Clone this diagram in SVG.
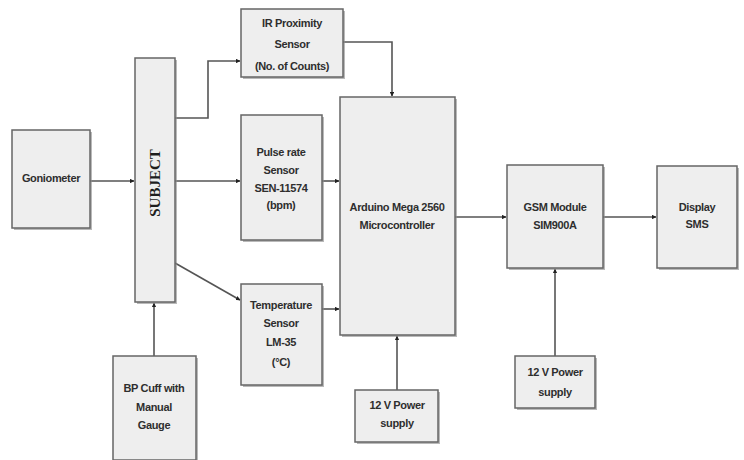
<svg xmlns="http://www.w3.org/2000/svg" width="744" height="460" viewBox="0 0 744 460">
<style>
.box{fill:#eeeeee;stroke:#666666;stroke-width:1.5}
.sh{fill:#8a8a8a;opacity:0.6}
.t{font-family:"Liberation Sans",Arial,sans-serif;font-size:11px;font-weight:bold;fill:#2e2e2e;text-anchor:middle;letter-spacing:-0.35px}
.subj{font-family:"Liberation Serif","Times New Roman",serif;font-size:15px;font-weight:bold;fill:#1e1e1e;text-anchor:middle}
.c{fill:none;stroke:#555;stroke-width:1.6}
</style>
<defs>
<marker id="ah" viewBox="0 0 6 6" refX="5.5" refY="3" markerWidth="4.5" markerHeight="4.5" orient="auto" markerUnits="userSpaceOnUse">
<path d="M0,0 L6,3 L0,6 z" fill="#222"/>
</marker>
</defs>
<rect width="744" height="460" fill="#ffffff"/>
<g id="connectors">
<path class="c" d="M90,181 H134" marker-end="url(#ah)"/>
<path class="c" d="M175,118 H208 V61 H240" marker-end="url(#ah)"/>
<path class="c" d="M175,181 H240" marker-end="url(#ah)"/>
<path class="c" d="M322,181 H339" marker-end="url(#ah)"/>
<path class="c" d="M175,263 L240,300" marker-end="url(#ah)"/>
<path class="c" d="M322,309 H339" marker-end="url(#ah)"/>
<path class="c" d="M343,42 H392 V96" marker-end="url(#ah)"/>
<path class="c" d="M154,356 V303" marker-end="url(#ah)"/>
<path class="c" d="M455,217 H506" marker-end="url(#ah)"/>
<path class="c" d="M603,217 H656" marker-end="url(#ah)"/>
<path class="c" d="M397,390 V336" marker-end="url(#ah)"/>
<path class="c" d="M555,356 V269" marker-end="url(#ah)"/>
</g>
<g id="goniometer">
<rect class="sh" x="14" y="132" width="78" height="98"/>
<rect class="box" x="12" y="130" width="78" height="98"/>
<text class="t" x="51" y="182">Goniometer</text>
</g>
<g id="subject">
<rect class="sh" x="137" y="60" width="40" height="244"/>
<rect class="box" x="135" y="58" width="40" height="244"/>
<text class="subj" transform="translate(160,183) rotate(-90)">SUBJECT</text>
</g>
<g id="ir">
<rect class="sh" x="243" y="11" width="102" height="68"/>
<rect class="box" x="241" y="9" width="102" height="68"/>
<text class="t" x="292" y="27">IR Proximity</text>
<text class="t" x="292" y="48">Sensor</text>
<text class="t" x="292" y="70">(No. of Counts)</text>
</g>
<g id="pulse">
<rect class="sh" x="243" y="117" width="81" height="125"/>
<rect class="box" x="241" y="115" width="81" height="125"/>
<text class="t" x="281" y="156">Pulse rate</text>
<text class="t" x="281" y="174">Sensor</text>
<text class="t" x="281" y="192">SEN-11574</text>
<text class="t" x="281" y="209">(bpm)</text>
</g>
<g id="temperature">
<rect class="sh" x="243" y="286" width="81" height="101"/>
<rect class="box" x="241" y="284" width="81" height="101"/>
<text class="t" x="281" y="309">Temperature</text>
<text class="t" x="281" y="327">Sensor</text>
<text class="t" x="281" y="346">LM-35</text>
<text class="t" x="281" y="366">(°C)</text>
</g>
<g id="bpcuff">
<rect class="sh" x="115" y="358" width="83" height="104"/>
<rect class="box" x="113" y="356" width="83" height="104"/>
<text class="t" x="154" y="392">BP Cuff with</text>
<text class="t" x="154" y="411">Manual</text>
<text class="t" x="154" y="429">Gauge</text>
</g>
<g id="arduino">
<rect class="sh" x="342" y="99" width="115" height="238"/>
<rect class="box" x="340" y="97" width="115" height="238"/>
<text class="t" x="397" y="211">Arduino Mega 2560</text>
<text class="t" x="397" y="229">Microcontroller</text>
</g>
<g id="gsm">
<rect class="sh" x="509" y="167" width="96" height="103"/>
<rect class="box" x="507" y="165" width="96" height="103"/>
<text class="t" x="555" y="211">GSM Module</text>
<text class="t" x="555" y="229">SIM900A</text>
</g>
<g id="display">
<rect class="sh" x="659" y="168" width="80" height="102"/>
<rect class="box" x="657" y="166" width="80" height="102"/>
<text class="t" x="697" y="211">Display</text>
<text class="t" x="697" y="228">SMS</text>
</g>
<g id="power1">
<rect class="sh" x="357" y="392" width="83" height="52"/>
<rect class="box" x="355" y="390" width="83" height="52"/>
<text class="t" x="397" y="409">12 V Power</text>
<text class="t" x="397" y="427">supply</text>
</g>
<g id="power2">
<rect class="sh" x="517" y="358" width="80" height="52"/>
<rect class="box" x="515" y="356" width="80" height="52"/>
<text class="t" x="555" y="376">12 V Power</text>
<text class="t" x="555" y="396">supply</text>
</g>
</svg>
